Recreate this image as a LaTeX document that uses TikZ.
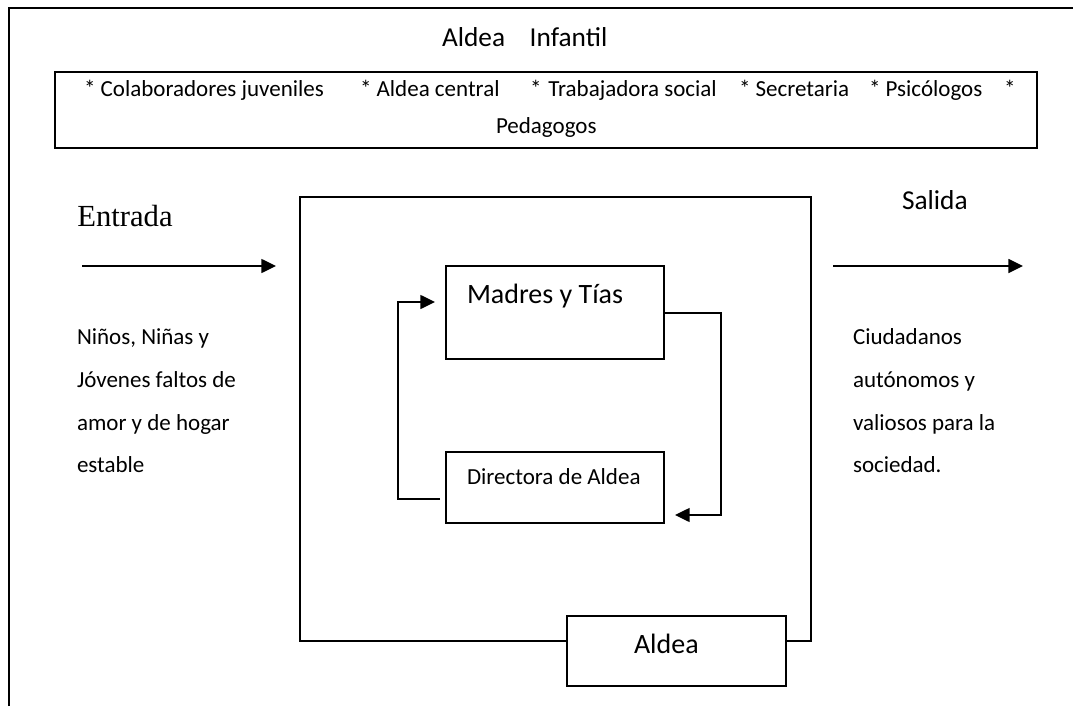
\documentclass[tikz,border=0pt]{standalone}
\usepackage{fontspec}
\setmainfont{Carlito}
\newfontfamily\serifent{Liberation Serif}
\usetikzlibrary{arrows.meta}
\tikzset{
  box/.style={draw, line width=1.1pt, inner sep=0pt, outer sep=0pt, fill=white},
  txt/.style={anchor=base west, inner sep=0pt, outer sep=0pt, font=\fontsize{17.25pt}{20pt}\selectfont},
  bigtxt/.style={anchor=base west, inner sep=0pt, outer sep=0pt, font=\fontsize{20.5pt}{24pt}\selectfont},
  flow/.style={line width=1.1pt, -{Triangle[length=11pt,width=10.5pt]}},
  frame/.style={line width=1.5pt}
}
\begin{document}
\begin{tikzpicture}[x=0.75pt,y=-0.75pt]
\useasboundingbox (0,0) rectangle (1073,706);
% outer frame
\coordinate (fbl) at (9,706);
\coordinate (ftl) at (9,8);
\coordinate (ftr) at (1073,8);
\draw[frame] (fbl) -- (ftl) -- (ftr);
% title
\node[bigtxt] (title) at (442,47) {Aldea\hspace{0.9em}Infantil};
% top box
\node[box, minimum width=736.5pt, minimum height=57pt] (staff) at (546,110) {};
\node[txt] (s1) at (84,97) {* Colaboradores juveniles};
\node[txt] (s2) at (360,97) {* Aldea central};
\node[txt] (s3) at (530,97) {*\hspace{0.3em}Trabajadora social};
\node[txt] (s4) at (739,97) {* Secretaria};
\node[txt] (s5) at (869,97) {* Psicólogos};
\node[txt] (s6) at (1004,97) {*};
\node[txt] (s7) at (496,133) {Pedagogos};
% big square
\node[box, fill=none, minimum width=383.25pt, minimum height=333pt] (big) at (555.5,419) {};
% inner boxes
\node[box, minimum width=163.5pt, minimum height=69.75pt] (mad) at (555,312.5) {};
\node[bigtxt, font=\fontsize{21pt}{24pt}\selectfont] (madt) at (467,303) {Madres y Tías};
\node[box, minimum width=163.5pt, minimum height=53.25pt] (dir) at (555,487.5) {};
\node[txt] (dirt) at (467,484) {Directora de Aldea};
\node[box, minimum width=164.25pt, minimum height=52.5pt] (ald) at (676.5,651) {};
\node[bigtxt, font=\fontsize{21pt}{24pt}\selectfont] (aldt) at (634,653) {Aldea};
% entrada / salida
\node[anchor=base west, inner sep=0pt, font=\serifent\fontsize{23pt}{26pt}\selectfont] (ent) at (77,226) {Entrada};
\node[bigtxt] (sal) at (902,209) {Salida};
\coordinate (ea) at (82,266);
\coordinate (eb) at (276,266);
\coordinate (sa) at (833,266);
\coordinate (sb) at (1023,266);
\draw[flow] (ea) -- (eb);
\draw[flow] (sa) -- (sb);
% left / right texts
\node[txt] (l1) at (77,344) {Niños, Niñas y};
\node[txt] (l2) at (77,387) {Jóvenes faltos de};
\node[txt] (l3) at (77,430) {amor y de hogar};
\node[txt] (l4) at (77,472) {estable};
\node[txt] (r1) at (853,344) {Ciudadanos};
\node[txt] (r2) at (853,387) {autónomos y};
\node[txt] (r3) at (853,430) {valiosos para la};
\node[txt] (r4) at (853,472) {sociedad.};
% loop arrows
\coordinate (lc) at ([shift={(-48,-10.5)}]mad.west);
\draw[flow] ([shift={(-6,11.5)}]dir.west) -| (lc) -- ([shift={(-11,-10.5)}]mad.west);
\coordinate (rc) at ([shift={(57,27.5)}]dir.east);
\draw[flow] ([yshift=-0.5*0.75pt]mad.east) -| (rc) -- ([shift={(11,27.5)}]dir.east);
\end{tikzpicture}
\end{document}
